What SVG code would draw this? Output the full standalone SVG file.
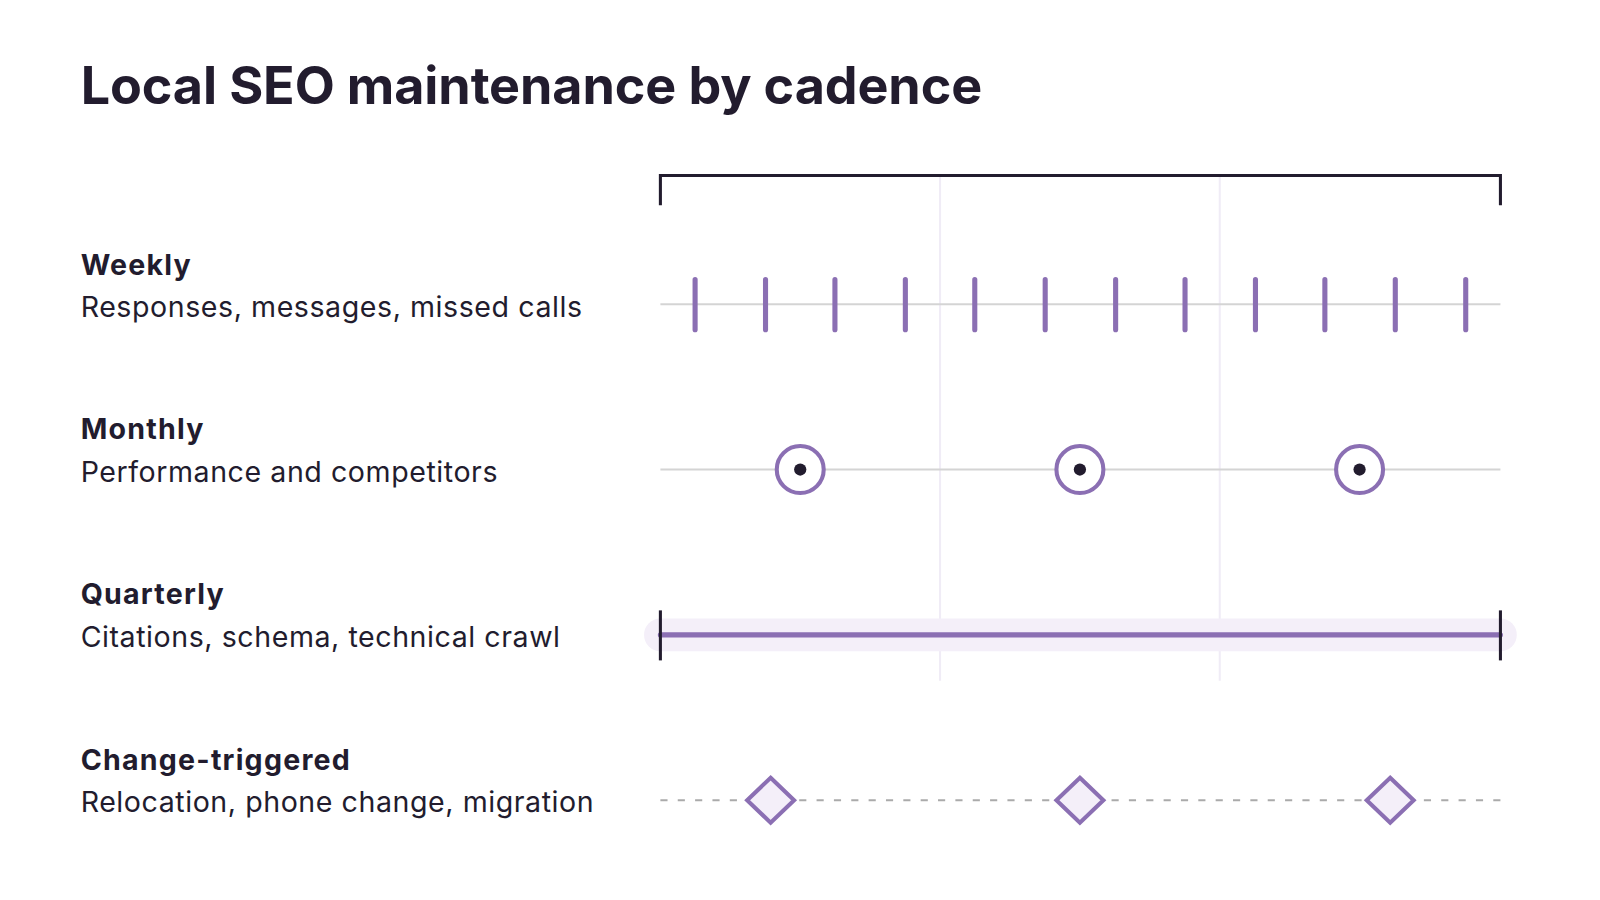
<svg xmlns="http://www.w3.org/2000/svg" width="1600" height="900" viewBox="0 0 1600 900">
<style>
text{font-family:Inter,"Noto Sans",sans-serif;fill:#221c2e}
.t{font-size:51px;font-weight:700;letter-spacing:-0.1px}
.h{font-size:28px;font-weight:700;letter-spacing:1.2px}
.s{font-size:28px;letter-spacing:0.55px}
.grid{stroke:#f0ecf6;stroke-width:2}
.base{stroke:#d4d4d4;stroke-width:2}
.tick{stroke:#8b6fb3;stroke-width:5;stroke-linecap:round}
.ring{fill:#fff;stroke:#8b6fb3;stroke-width:4}
.dia{fill:#f4eff9;stroke:#8b6fb3;stroke-width:4}
.blk{stroke:#221c2e;stroke-width:3;fill:none}
</style>
<rect width="1600" height="900" fill="#fff"/>
<g transform="scale(1.0207)">
<text class="t" x="79" y="102">Local SEO maintenance by cadence</text>
<g id="connectors">
<line class="grid" x1="921" y1="172" x2="921" y2="667"/>
<line class="grid" x1="1195" y1="172" x2="1195" y2="667"/>
<path class="blk" d="M647 201V172H1470V201"/>
<line class="base" x1="647" y1="298" x2="1470" y2="298"/>
<line class="base" x1="647" y1="460" x2="1470" y2="460"/>
<line x1="647" y1="784" x2="1470" y2="784" stroke="#aaa" stroke-width="2" stroke-dasharray="7 10"/>
</g>
<g id="weekly">
<text class="h" x="79" y="269">Weekly</text>
<text class="s" x="79" y="311">Responses, messages, missed calls</text>
<g class="tick">
<line x1="681" y1="274" x2="681" y2="323"/><line x1="750" y1="274" x2="750" y2="323"/><line x1="818" y1="274" x2="818" y2="323"/><line x1="887" y1="274" x2="887" y2="323"/><line x1="955" y1="274" x2="955" y2="323"/><line x1="1024" y1="274" x2="1024" y2="323"/><line x1="1093" y1="274" x2="1093" y2="323"/><line x1="1161" y1="274" x2="1161" y2="323"/><line x1="1230" y1="274" x2="1230" y2="323"/><line x1="1298" y1="274" x2="1298" y2="323"/><line x1="1367" y1="274" x2="1367" y2="323"/><line x1="1436" y1="274" x2="1436" y2="323"/>
</g>
</g>
<g id="monthly">
<text class="h" x="79" y="430">Monthly</text>
<text class="s" x="79" y="472">Performance and competitors</text>
<circle class="ring" cx="784" cy="460" r="23"/><circle cx="784" cy="460" r="6" fill="#221c2e"/>
<circle class="ring" cx="1058" cy="460" r="23"/><circle cx="1058" cy="460" r="6" fill="#221c2e"/>
<circle class="ring" cx="1332" cy="460" r="23"/><circle cx="1332" cy="460" r="6" fill="#221c2e"/>
</g>
<g id="quarterly">
<text class="h" x="79" y="592">Quarterly</text>
<text class="s" x="79" y="634">Citations, schema, technical crawl</text>
<rect x="631" y="606" width="855" height="32" rx="16" fill="#f4eff9"/>
<line class="tick" x1="647" y1="622" x2="1470" y2="622" stroke-width="6"/>
<line class="blk" x1="647" y1="598" x2="647" y2="647"/>
<line class="blk" x1="1470" y1="598" x2="1470" y2="647"/>
</g>
<g id="change">
<text class="h" x="79" y="754">Change-triggered</text>
<text class="s" x="79" y="796">Relocation, phone change, migration</text>
<path class="dia" d="M755 762L778 784L755 806L732 784Z"/>
<path class="dia" d="M1058 762L1081 784L1058 806L1035 784Z"/>
<path class="dia" d="M1362 762L1385 784L1362 806L1339 784Z"/>
</g>
</g>
</svg>
